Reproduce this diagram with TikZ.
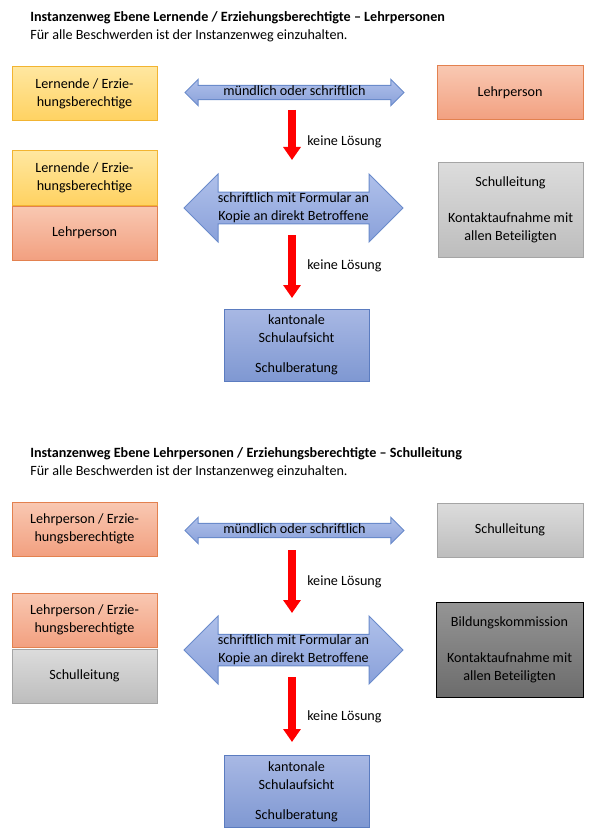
\documentclass[tikz,border=0pt]{standalone}
\usepackage{fontspec}
\setmainfont{Carlito}
\usetikzlibrary{shapes.arrows,arrows.meta}
\definecolor{yelA}{HTML}{FFE7A0}
\definecolor{yelB}{HTML}{FFD261}
\definecolor{yelD}{HTML}{F2B431}
\definecolor{salA}{HTML}{F9C8B2}
\definecolor{salB}{HTML}{F2A080}
\definecolor{salD}{HTML}{E3814F}
\definecolor{gryA}{HTML}{DCDCDC}
\definecolor{gryB}{HTML}{BDBDBD}
\definecolor{gryD}{HTML}{A5A5A5}
\definecolor{drkA}{HTML}{959595}
\definecolor{drkB}{HTML}{6C6C6C}
\definecolor{bluA}{HTML}{AFC0EA}
\definecolor{bluB}{HTML}{8AA1DA}
\definecolor{bluD}{HTML}{6A8BCB}
\definecolor{kanA}{HTML}{A8B8E4}
\definecolor{kanB}{HTML}{7F98D2}
\definecolor{kanD}{HTML}{5B7CC0}
\definecolor{rotA}{HTML}{FF0000}
\begin{document}
\begin{tikzpicture}[x=0.75pt,y=-0.75pt,
  font=\fontsize{10.6pt}{13.5pt}\selectfont,
  title/.style={anchor=west, inner sep=0pt},
  box/.style={rectangle, draw, line width=0.75pt, align=center, inner sep=0pt,
    minimum width=108.75pt, minimum height=40.5pt},
  yelbox/.style={box, draw=yelD, top color=yelA, bottom color=yelB},
  salbox/.style={box, draw=salD, top color=salA, bottom color=salB},
  grybox/.style={box, draw=gryD, top color=gryA, bottom color=gryB},
  drkbox/.style={box, draw=black, top color=drkA, bottom color=drkB},
  kanbox/.style={box, draw=kanD, top color=kanA, bottom color=kanB,
    minimum height=54pt},
  thinarrow/.style={double arrow, draw=bluD, line width=0.75pt,
    top color=bluA, bottom color=bluB, inner xsep=0pt, inner ysep=0.5pt,
    text height=7pt, text depth=2pt, minimum height=164.25pt,
    minimum width=18.75pt, double arrow head extend=4.5pt},
  fatarrow/.style={double arrow, draw=bluD, line width=0.75pt,
    top color=bluA, bottom color=bluB, inner xsep=0pt, inner ysep=0pt,
    align=center, minimum height=164.25pt,
    minimum width=51pt, double arrow head extend=13.5pt},
  redarrow/.style={draw=rotA, line width=6pt,
    -{Triangle[width=12.75pt,length=9.75pt]}},
  note/.style={anchor=west, inner sep=0pt}]
\useasboundingbox (0,0) rectangle (594,838);

% Lernende / Erziehungsberechtigte - Lehrpersonen
\node[title] (tit1) at (30,18) {\textbf{Instanzenweg Ebene Lernende / Erziehungsberechtigte – Lehrpersonen}};
\node[title] (sub1) at (30,36) {Für alle Beschwerden ist der Instanzenweg einzuhalten.};
\node[yelbox] (ln1) at (84.5,94) {Lernende / Erzie-\\hungsberechtige};
\node[thinarrow] (mu1) at (294.5,92.5) {mündlich oder schriftlich};
\node[salbox, minimum width=109.5pt] (lp1) at (510,93) {Lehrperson};
\node[yelbox] (ln2) at (84.5,178) {Lernende / Erzie-\\hungsberechtige};
\node[salbox] (lp2) at (84.5,233) {Lehrperson};
\node[fatarrow] (sf1) at (293.5,208) {schriftlich mit Formular an\\Kopie an direkt Betroffene};
\node[grybox, minimum height=70.5pt] (sl1) at (510.5,210) {Schulleitung\\[13.5pt]Kontaktaufnahme mit\\allen Beteiligten};
\node[kanbox] (ka1) at (296.5,345) {kantonale\\Schulaufsicht\\[9pt]Schulberatung};
\coordinate (r1a) at (292,110);
\coordinate (r1b) at (292,160);
\coordinate (r2a) at (292,235);
\coordinate (r2b) at (292,298);
\draw[redarrow] (r1a) -- (r1b);
\draw[redarrow] (r2a) -- (r2b);
\node[note] (kl1) at (307,142) {keine Lösung};
\node[note] (kl2) at (307,266) {keine Lösung};

% Lehrpersonen / Erziehungsberechtigte - Schulleitung
\node[title] (tit2) at (30,454) {\textbf{Instanzenweg Ebene Lehrpersonen / Erziehungsberechtigte – Schulleitung}};
\node[title] (sub2) at (30,472) {Für alle Beschwerden ist der Instanzenweg einzuhalten.};
\node[salbox] (lp3) at (84.5,529) {Lehrperson / Erzie-\\hungsberechtigte};
\node[thinarrow] (mu2) at (294.5,530.5) {mündlich oder schriftlich};
\node[grybox, minimum width=109.5pt] (sl2) at (510,530) {Schulleitung};
\node[salbox] (lp4) at (84.5,620) {Lehrperson / Erzie-\\hungsberechtigte};
\node[grybox] (sl3) at (84.5,676) {Schulleitung};
\node[fatarrow] (sf2) at (293.5,650) {schriftlich mit Formular an\\Kopie an direkt Betroffene};
\node[drkbox, minimum width=110.25pt, minimum height=71.25pt] (bk) at (509.5,649.5) {Bildungskommission\\[13.5pt]Kontaktaufnahme mit\\allen Beteiligten};
\node[kanbox] (ka2) at (296.5,791.5) {kantonale\\Schulaufsicht\\[9pt]Schulberatung};
\coordinate (r3a) at (292,550);
\coordinate (r3b) at (292,613);
\coordinate (r4a) at (292,677);
\coordinate (r4b) at (292,742);
\draw[redarrow] (r3a) -- (r3b);
\draw[redarrow] (r4a) -- (r4b);
\node[note] (kl3) at (307,582) {keine Lösung};
\node[note] (kl4) at (307,717) {keine Lösung};
\end{tikzpicture}
\end{document}
